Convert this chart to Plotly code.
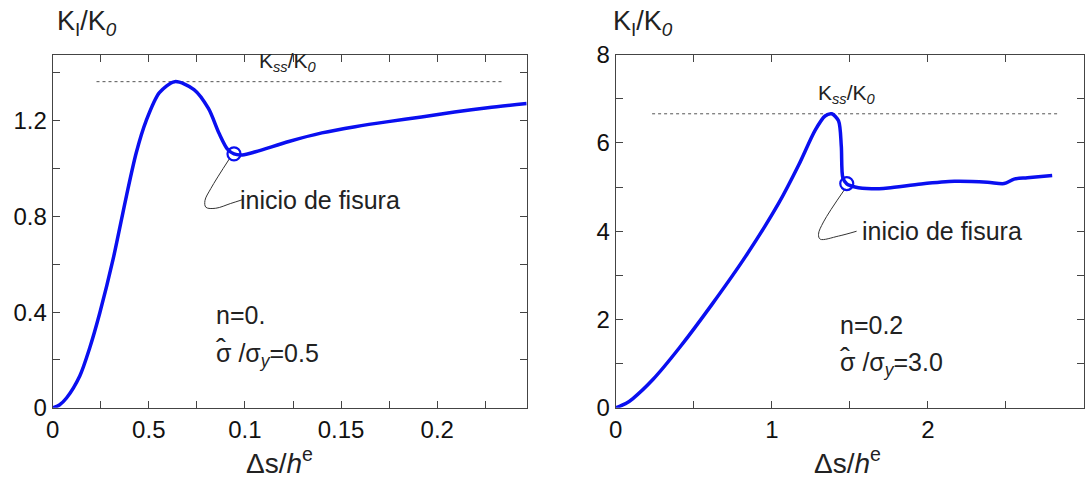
import plotly.graph_objects as go

# ---- data: normalised stress intensity vs. crack advance ----
left_x = [0, 0.0035, 0.0072, 0.0141, 0.0193, 0.0245, 0.0314, 0.0383, 0.0435, 0.0486,
          0.0555, 0.0635, 0.0735, 0.0810, 0.0866, 0.0909, 0.0943, 0.0987, 0.1055,
          0.1228, 0.140, 0.1573, 0.1745, 0.1918, 0.209, 0.2262, 0.2465]
left_y = [0, 0.012, 0.041, 0.133, 0.251, 0.396, 0.62, 0.883, 1.067, 1.199,
          1.317, 1.363, 1.33, 1.251, 1.146, 1.081, 1.061, 1.057, 1.070,
          1.113, 1.149, 1.175, 1.196, 1.215, 1.236, 1.254, 1.272]

right_x = [0, 0.07, 0.11, 0.238, 0.408, 0.62, 0.832, 1.045, 1.172, 1.278, 1.341,
           1.384, 1.427, 1.445, 1.455, 1.48, 1.533, 1.639, 1.745, 1.957, 2.17,
           2.382, 2.488, 2.552, 2.637, 2.796]
right_y = [0, 0.11, 0.21, 0.64, 1.36, 2.36, 3.43, 4.64, 5.5, 6.29, 6.61,
           6.66, 6.5, 5.93, 5.21, 5.07, 5.0, 4.96, 4.98, 5.07, 5.13,
           5.11, 5.08, 5.18, 5.21, 5.26]

# crack initiation points
left_init = (0.0943, 1.061)
right_init = (1.48, 5.08)

# steady-state levels K_ss/K_0 and their extent
left_kss, left_kss_span = 1.363, (0.0228, 0.2338)
right_kss, right_kss_span = 6.66, (0.233, 2.84)

# leader line paths for the "inicio de fisura" label
left_leader_x = [0.0921, 0.0823, 0.0792, 0.0797, 0.0848, 0.0926, 0.0988]
left_leader_y = [1.043, 0.917, 0.866, 0.838, 0.834, 0.854, 0.870]
right_leader_x = [1.469, 1.331, 1.299, 1.31, 1.427, 1.543]
right_leader_y = [4.96, 4.21, 3.93, 3.82, 3.89, 4.0]

# axis ticks
left_xticks = [0, 0.05, 0.1, 0.15, 0.2]
left_xtext = ["0", "0.5", "0.1", "0.15", "0.2"]
left_yticks = [0, 0.4, 0.8, 1.2]
left_ytext = ["0", "0.4", "0.8", "1.2"]
right_xticks = [0, 1, 2, 3]
right_xtext = ["0", "1", "2", "3"]
right_yticks = [0, 2, 4, 6, 8]
right_ytext = ["0", "2", "4", "6", "8"]

FONT = "Liberation Sans, Arial, sans-serif"
BLUE = "#0a0ff0"
AX = "#444444"
TXT = "#222222"

fig = go.Figure()

def panel(xs, ys, init, kss, span, lx, ly, xa, ya):
    fig.add_trace(go.Scatter(x=list(span), y=[kss, kss], mode="lines",
                             line=dict(color="#555555", width=1, dash="dot"),
                             xaxis=xa, yaxis=ya, hoverinfo="skip"))
    fig.add_trace(go.Scatter(x=lx, y=ly, mode="lines",
                             line=dict(color="#333333", width=1, shape="spline", smoothing=1.0),
                             xaxis=xa, yaxis=ya, hoverinfo="skip"))
    fig.add_trace(go.Scatter(x=xs, y=ys, mode="lines",
                             line=dict(color=BLUE, width=3.5, shape="spline", smoothing=0.8),
                             xaxis=xa, yaxis=ya))
    fig.add_trace(go.Scatter(x=[init[0]], y=[init[1]], mode="markers",
                             marker=dict(symbol="circle-open", size=13, color=BLUE,
                                         line=dict(width=2.2, color=BLUE)),
                             xaxis=xa, yaxis=ya))

panel(left_x, left_y, left_init, left_kss, left_kss_span,
      left_leader_x, left_leader_y, "x", "y")
panel(right_x, right_y, right_init, right_kss, right_kss_span,
      right_leader_x, right_leader_y, "x2", "y2")

axis_common = dict(showgrid=False, zeroline=False, showline=True, linecolor=AX,
                   linewidth=1, mirror="ticks", ticks="inside", ticklen=7,
                   tickcolor=AX, tickfont=dict(family=FONT, size=24, color="#111111"))

fig.update_layout(
    width=1089, height=486,
    margin=dict(l=0, r=0, t=0, b=0),
    paper_bgcolor="white", plot_bgcolor="white",
    showlegend=False,
    xaxis=dict(domain=[0.0422, 0.4803], range=[0, 0.2465], tickvals=left_xticks,
               ticktext=left_xtext, minor=dict(dtick=0.025, tick0=0, ticks="inside",
                                                ticklen=7, tickcolor=AX),
               anchor="y", **axis_common),
    yaxis=dict(domain=[0.142, 0.9115], range=[0, 1.476], tickvals=left_yticks,
               ticktext=left_ytext, minor=dict(dtick=0.2, tick0=0, ticks="inside",
                                                ticklen=7, tickcolor=AX),
               anchor="x", **axis_common),
    xaxis2=dict(domain=[0.5626, 0.9954], range=[0, 3], tickvals=right_xticks,
                ticktext=right_xtext, minor=dict(dtick=0.5, tick0=0, ticks="inside",
                                                 ticklen=7, tickcolor=AX),
                anchor="y2", **axis_common),
    yaxis2=dict(domain=[0.142, 0.9115], range=[0, 8], tickvals=right_yticks,
                ticktext=right_ytext, minor=dict(dtick=1, tick0=0, ticks="inside",
                                                 ticklen=7, tickcolor=AX),
                anchor="x2", **axis_common),
)

def note(text, x, y, xref, yref, size=25, xanchor="left", yanchor="middle",
         color=TXT, xshift=0, yshift=0):
    fig.add_annotation(text=text, x=x, y=y, xref=xref, yref=yref, showarrow=False,
                       xanchor=xanchor, yanchor=yanchor, xshift=xshift, yshift=yshift,
                       font=dict(family=FONT, size=size, color=color))

# vertical axis labels above each panel
note("K<sub>I</sub>/K<sub><i>0</i></sub>", 48 / 1089, 1 - 10 / 486, "paper", "paper", size=27)
note("K<sub>I</sub>/K<sub><i>0</i></sub>", 608 / 1089, 1 - 10 / 486, "paper", "paper", size=27)

# horizontal axis titles
note("Δs/<i>h</i><sup>e</sup>", 0.5, -0.15, "x domain", "y domain", size=28,
     xanchor="center", xshift=-10)
note("Δs/<i>h</i><sup>e</sup>", 0.5, -0.15, "x2 domain", "y2 domain", size=28,
     xanchor="center", xshift=-2)

# steady-state labels
note("K<sub><i>ss</i></sub>/K<sub><i>0</i></sub>", 0.1226, 1.445, "x", "y", size=21, xanchor="center")
note("K<sub><i>ss</i></sub>/K<sub><i>0</i></sub>", 1.48, 7.1, "x2", "y2", size=21, xanchor="center")

# crack initiation labels
note("inicio de fisura", 0.0965, 0.87, "x", "y")
note("inicio de fisura", 1.565, 4.0, "x2", "y2")

# material parameters: hardening exponent and normalised stress
def params(n_text, ratio_text, x, y_n, y_s, xref, yref):
    note(n_text, x, y_n, xref, yref)
    note("σ /σ<sub><i>y</i></sub>=" + ratio_text, x, y_s, xref, yref)
    # circumflex accent over the leading sigma
    note("\u02c6", x, y_s, xref, yref, size=30, xshift=0, yshift=6)

params("n=0.", "0.5", 0.0838, 0.39, 0.221, "x", "y")
params("n=0.2", "3.0", 1.421, 1.87, 1.0, "x2", "y2")

fig.write_html("out.html")
